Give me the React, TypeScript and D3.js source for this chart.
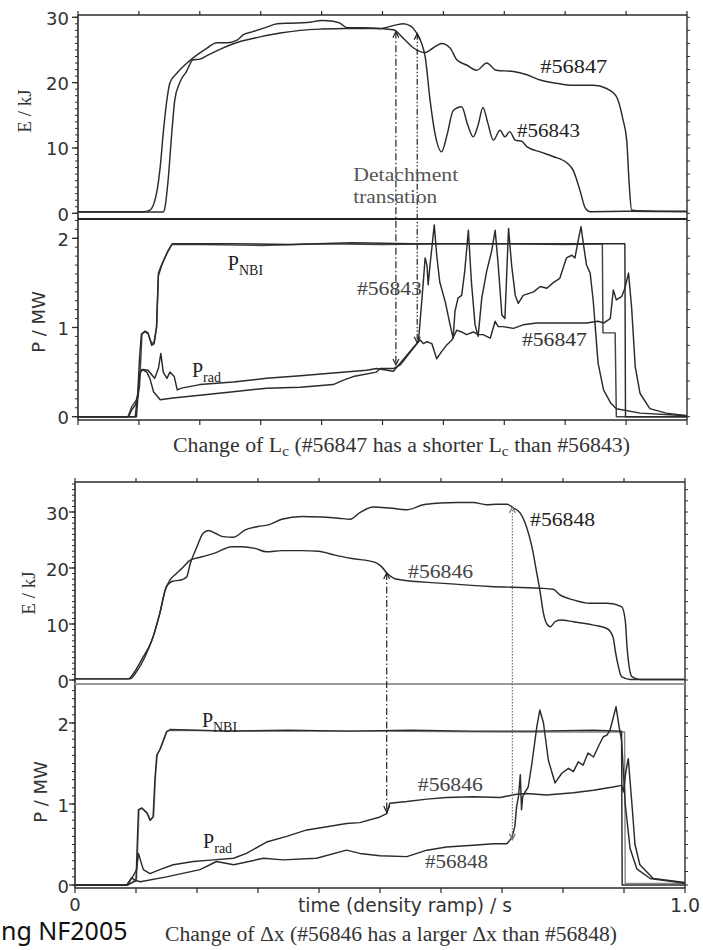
import React from "react";
import * as d3 from "d3";

type Pt = [number, number];

// ---------------- shared tick values ----------------
const timeTicks = [0, 0.1, 0.2, 0.3, 0.4, 0.5, 0.6, 0.7, 0.8, 0.9, 1.0];
const energyTicks = [0, 10, 20, 30];
const powerTicks = [0, 1, 2];

// ---------------- Figure 1: change of Lc (#56847 vs #56843) ----------------
const f1Energy56843: Pt[] = [
  [0, 0.25], [0.107, 0.25], [0.118, 0.5], [0.13, 3.6], [0.135, 7.1], [0.14, 12.3], [0.146, 17.4],
  [0.151, 20.0], [0.163, 21.5], [0.179, 23.0], [0.195, 24.2], [0.212, 25.3], [0.228, 26.1],
  [0.245, 26.1], [0.261, 26.5], [0.271, 27.3], [0.287, 27.8], [0.31, 28.5], [0.327, 29.0],
  [0.348, 29.1], [0.376, 29.2], [0.401, 29.5], [0.419, 29.4], [0.43, 29.1], [0.442, 28.4],
  [0.463, 28.4], [0.496, 28.3], [0.521, 28.8], [0.534, 29.0], [0.547, 28.6], [0.556, 27.6],
  [0.57, 24.0], [0.578, 17.4], [0.586, 12.3], [0.597, 9.4], [0.606, 12.0], [0.616, 15.7],
  [0.63, 16.3], [0.64, 13.5], [0.649, 11.7], [0.657, 13.5], [0.665, 16.2], [0.673, 13.8],
  [0.682, 11.2], [0.693, 12.7], [0.701, 11.7], [0.709, 12.5], [0.718, 11.2], [0.729, 11.0],
  [0.737, 10.2], [0.759, 9.4], [0.78, 8.7], [0.803, 7.7], [0.813, 6.6], [0.824, 3.6],
  [0.833, 0.8], [0.841, 0.25], [0.9, 0.3], [1.0, 0.25],
];
const f1Energy56847: Pt[] = [
  [0, 0.2], [0.14, 0.2], [0.143, 1.0], [0.148, 5.1], [0.154, 12.3], [0.159, 17.4], [0.167, 20.0],
  [0.178, 21.7], [0.189, 23.5], [0.2, 23.6], [0.211, 24.1], [0.233, 25.1], [0.266, 26.3],
  [0.299, 27.0], [0.332, 27.6], [0.365, 28.0], [0.4, 28.2], [0.441, 28.3], [0.484, 28.3],
  [0.518, 28.1], [0.534, 26.8], [0.551, 25.3], [0.57, 24.6], [0.583, 25.3], [0.597, 26.0],
  [0.611, 25.3], [0.622, 23.5], [0.638, 22.7], [0.655, 21.9], [0.671, 23.0], [0.687, 21.9],
  [0.715, 21.7], [0.737, 21.2], [0.759, 20.4], [0.786, 19.9], [0.813, 19.6], [0.846, 19.6],
  [0.868, 19.1], [0.884, 17.9], [0.895, 14.3], [0.901, 11.2], [0.905, 4.6], [0.909, 0.5],
  [0.917, 0.4], [1.0, 0.3],
];
const f1Nbi56843: Pt[] = [
  [0, 0], [0.082, 0], [0.088, 0.11], [0.096, 0.19], [0.101, 0.34], [0.105, 0.93], [0.11, 0.95],
  [0.115, 0.93], [0.121, 0.82], [0.125, 0.84], [0.129, 1.01], [0.132, 1.61], [0.137, 1.7],
  [0.146, 1.83], [0.154, 1.93], [0.2, 1.93], [0.3, 1.92], [0.4, 1.94], [0.5, 1.93], [0.6, 1.94],
  [0.7, 1.94], [0.8, 1.93], [0.861, 1.94], [0.862, 0.94], [0.882, 0.94], [0.884, 0.0], [1.0, 0.0],
];
const f1Nbi56847: Pt[] = [
  [0, 0], [0.094, 0], [0.098, 0.25], [0.101, 0.65], [0.104, 0.92], [0.11, 0.96], [0.115, 0.94],
  [0.121, 0.8], [0.125, 0.82], [0.129, 1.0], [0.132, 1.58], [0.138, 1.71], [0.147, 1.85],
  [0.155, 1.94], [0.25, 1.94], [0.35, 1.93], [0.45, 1.95], [0.55, 1.94], [0.65, 1.94],
  [0.75, 1.94], [0.898, 1.94], [0.899, 0.0], [1.0, 0.0],
];
const f1Prad56843: Pt[] = [
  [0, 0], [0.083, 0], [0.088, 0.075], [0.094, 0.13], [0.099, 0.24], [0.102, 0.5], [0.107, 0.53],
  [0.115, 0.52], [0.121, 0.47], [0.126, 0.43], [0.132, 0.54], [0.136, 0.71], [0.14, 0.5],
  [0.146, 0.43], [0.151, 0.5], [0.158, 0.45], [0.163, 0.3], [0.17, 0.32], [0.2, 0.36],
  [0.255, 0.39], [0.31, 0.43], [0.365, 0.46], [0.419, 0.49], [0.474, 0.52], [0.49, 0.54],
  [0.518, 0.51], [0.54, 0.69], [0.551, 0.78], [0.559, 0.84], [0.567, 1.51], [0.57, 1.78],
  [0.573, 1.7], [0.575, 1.48], [0.578, 1.7], [0.581, 1.89], [0.585, 2.15], [0.589, 1.81],
  [0.594, 1.51], [0.603, 1.29], [0.611, 1.03], [0.616, 0.88], [0.619, 1.18], [0.624, 1.33],
  [0.63, 1.36], [0.635, 1.63], [0.641, 2.09], [0.646, 1.51], [0.652, 1.03], [0.657, 0.9],
  [0.663, 1.33], [0.671, 1.63], [0.679, 1.85], [0.685, 2.09], [0.69, 1.7], [0.696, 1.14],
  [0.701, 1.1], [0.707, 2.11], [0.712, 1.7], [0.718, 1.36], [0.723, 1.27], [0.731, 1.36],
  [0.748, 1.4], [0.759, 1.46], [0.77, 1.44], [0.78, 1.5], [0.791, 1.55], [0.802, 1.78],
  [0.811, 1.81], [0.816, 1.78], [0.822, 2.0], [0.826, 2.13], [0.83, 1.93], [0.835, 1.7],
  [0.841, 1.61], [0.846, 1.3], [0.854, 0.6], [0.863, 0.3], [0.875, 0.15], [0.884, 0.09],
  [0.923, 0.04], [1.0, 0.01],
];
const f1Prad56847: Pt[] = [
  [0, 0], [0.096, 0], [0.101, 0.47], [0.105, 0.53], [0.113, 0.5], [0.118, 0.43], [0.124, 0.28],
  [0.135, 0.19], [0.156, 0.21], [0.2, 0.24], [0.255, 0.28], [0.31, 0.32], [0.365, 0.33],
  [0.419, 0.36], [0.436, 0.41], [0.452, 0.45], [0.49, 0.5], [0.496, 0.54], [0.518, 0.54],
  [0.529, 0.58], [0.559, 0.84], [0.562, 0.86], [0.567, 0.82], [0.573, 0.84], [0.581, 0.82],
  [0.589, 0.65], [0.597, 0.73], [0.605, 0.8], [0.614, 0.86], [0.622, 0.97], [0.63, 0.95],
  [0.638, 0.92], [0.649, 0.95], [0.657, 0.92], [0.665, 0.92], [0.677, 0.88], [0.685, 1.07],
  [0.69, 1.01], [0.698, 1.01], [0.715, 0.99], [0.731, 1.03], [0.753, 1.05], [0.78, 1.05],
  [0.813, 1.05], [0.835, 1.05], [0.854, 1.07], [0.863, 1.05], [0.874, 1.1], [0.879, 1.42],
  [0.884, 1.31], [0.893, 1.35], [0.898, 1.44], [0.904, 1.61], [0.909, 1.23], [0.915, 0.56],
  [0.923, 0.26], [0.939, 0.09], [0.966, 0.04], [1.0, 0.01],
];

// ---------------- Figure 2: change of Δx (#56846 vs #56848) ----------------
const f2Energy56848: Pt[] = [
  [0, 0.2], [0.09, 0.2], [0.101, 1.5], [0.115, 4.2], [0.128, 7.7], [0.139, 11.9], [0.15, 16.7],
  [0.159, 17.6], [0.175, 17.9], [0.183, 18.4], [0.189, 20.8], [0.2, 23.8], [0.21, 26.2],
  [0.219, 26.7], [0.23, 26.2], [0.243, 25.6], [0.26, 25.5], [0.279, 26.8], [0.3, 27.4],
  [0.317, 27.7], [0.339, 28.7], [0.372, 29.2], [0.404, 29.1], [0.432, 28.9], [0.451, 28.7],
  [0.467, 29.9], [0.489, 30.9], [0.516, 30.7], [0.544, 30.4], [0.571, 31.3], [0.598, 31.6],
  [0.626, 31.7], [0.653, 31.7], [0.675, 31.3], [0.691, 31.4], [0.708, 31.4], [0.719, 30.7],
  [0.73, 29.8], [0.74, 27.4], [0.749, 23.8], [0.757, 19.1], [0.762, 16.1], [0.768, 11.9],
  [0.773, 10.1], [0.779, 9.5], [0.787, 10.4], [0.795, 10.7], [0.817, 10.4], [0.85, 9.8],
  [0.872, 9.2], [0.882, 7.7], [0.886, 5.0], [0.89, 2.8], [0.896, 0.6], [0.91, 0.1], [1.0, 0.1],
];
const f2Energy56846: Pt[] = [
  [0, 0.2], [0.087, 0.2], [0.096, 1.2], [0.109, 3.6], [0.126, 7.1], [0.139, 11.9], [0.148, 16.1],
  [0.156, 17.9], [0.164, 18.8], [0.175, 19.9], [0.189, 21.4], [0.208, 22.0], [0.23, 22.7],
  [0.257, 23.8], [0.273, 23.8], [0.295, 23.5], [0.314, 22.9], [0.339, 23.1], [0.372, 23.1],
  [0.399, 23.0], [0.426, 22.3], [0.454, 21.7], [0.492, 21.0], [0.503, 20.2], [0.511, 19.1],
  [0.522, 18.2], [0.533, 17.9], [0.598, 17.3], [0.68, 16.7], [0.762, 16.4], [0.784, 16.2],
  [0.795, 15.2], [0.817, 14.3], [0.844, 13.7], [0.872, 13.7], [0.896, 13.1], [0.902, 10.7],
  [0.905, 5.9], [0.907, 3.6], [0.913, 0.6], [0.926, 0.1], [1.0, 0.1],
];
const f2Nbi56846: Pt[] = [
  [0, 0], [0.085, 0], [0.1, 0.05], [0.104, 0.93], [0.109, 0.95], [0.118, 0.89], [0.123, 0.8],
  [0.128, 0.84], [0.131, 1.3], [0.134, 1.6], [0.139, 1.67], [0.145, 1.79], [0.15, 1.89],
  [0.156, 1.92], [0.25, 1.9], [0.35, 1.91], [0.45, 1.9], [0.55, 1.91], [0.65, 1.9], [0.75, 1.9],
  [0.85, 1.91], [0.896, 1.9], [0.897, 0.0], [1.0, 0.0],
];
const f2Nbi56848: Pt[] = [
  [0, 0], [0.088, 0], [0.101, 0.08], [0.105, 0.92], [0.11, 0.95], [0.119, 0.88], [0.124, 0.8],
  [0.129, 0.85], [0.132, 1.35], [0.135, 1.62], [0.14, 1.68], [0.146, 1.8], [0.151, 1.9],
  [0.157, 1.91], [0.3, 1.9], [0.5, 1.9], [0.7, 1.89], [0.901, 1.89], [0.902, 0.02], [1.0, 0.02],
];
const f2Prad56846: Pt[] = [
  [0, 0], [0.085, 0], [0.09, 0.05], [0.096, 0.12], [0.101, 0.19], [0.104, 0.39], [0.112, 0.19],
  [0.123, 0.14], [0.139, 0.19], [0.161, 0.25], [0.194, 0.29], [0.227, 0.31], [0.26, 0.33],
  [0.281, 0.39], [0.314, 0.53], [0.347, 0.6], [0.38, 0.68], [0.413, 0.72], [0.445, 0.76],
  [0.467, 0.77], [0.5, 0.84], [0.511, 0.88], [0.516, 1.01], [0.544, 1.03], [0.577, 1.06],
  [0.609, 1.08], [0.653, 1.09], [0.697, 1.08], [0.724, 1.12], [0.74, 1.13], [0.773, 1.11],
  [0.817, 1.14], [0.85, 1.17], [0.882, 1.21], [0.896, 1.23], [0.899, 1.15], [0.903, 1.4],
  [0.907, 1.56], [0.913, 1.0], [0.918, 0.5], [0.926, 0.25], [0.948, 0.08], [1.0, 0.03],
];
const f2Prad56848: Pt[] = [
  [0, 0], [0.085, 0], [0.093, 0.09], [0.098, 0.06], [0.107, 0.04], [0.15, 0.1], [0.205, 0.19],
  [0.232, 0.29], [0.26, 0.25], [0.309, 0.33], [0.341, 0.31], [0.396, 0.33], [0.445, 0.43],
  [0.467, 0.39], [0.5, 0.36], [0.544, 0.35], [0.577, 0.43], [0.609, 0.47], [0.653, 0.49],
  [0.686, 0.51], [0.708, 0.51], [0.716, 0.58], [0.721, 0.72], [0.724, 0.97], [0.727, 1.09],
  [0.73, 1.36], [0.732, 0.93], [0.734, 1.09], [0.738, 1.15], [0.743, 1.21], [0.749, 1.5],
  [0.757, 1.95], [0.762, 2.16], [0.768, 2.0], [0.776, 1.54], [0.787, 1.26], [0.798, 1.38],
  [0.809, 1.44], [0.817, 1.4], [0.825, 1.52], [0.833, 1.48], [0.841, 1.63], [0.85, 1.58],
  [0.858, 1.71], [0.866, 1.83], [0.872, 1.85], [0.877, 1.91], [0.887, 2.2], [0.892, 1.95],
  [0.896, 1.79], [0.902, 1.0], [0.91, 0.45], [0.921, 0.2], [0.943, 0.08], [1.0, 0.02],
];

// ---------------- styling ----------------
const SERIF = "'Liberation Serif', 'Times New Roman', serif";
const SANS = "'DejaVu Sans', 'Liberation Sans', sans-serif";
const INK = "#2b2b2b";

type Lin = d3.ScaleLinear<number, number>;

function pathOf(x: Lin, y: Lin, data: Pt[], smooth: boolean) {
  const gen = d3
    .line<Pt>()
    .x((d) => x(d[0]))
    .y((d) => y(d[1]));
  if (smooth) gen.curve(d3.curveMonotoneX);
  return gen(data) || "";
}

function Arrow({ x, y1, y2, dash, color }: { x: number; y1: number; y2: number; dash: string; color: string }) {
  const h = 6;
  const w = 3;
  return (
    <g stroke={color} fill="none" strokeWidth={1.2}>
      <line x1={x} x2={x} y1={y1} y2={y2} strokeDasharray={dash} />
      <path d={`M${x - w},${y1 + h} L${x},${y1} L${x + w},${y1 + h}`} />
      <path d={`M${x - w},${y2 - h} L${x},${y2} L${x + w},${y2 - h}`} />
    </g>
  );
}

type Box = { left: number; right: number; top: number; mid: number; bottom: number };

function Frame({
  box, x, yE, yP, labelGap, dividerColor, eLabelPos, pLabelPos, rightMinorP,
}: {
  box: Box; x: Lin; yE: Lin; yP: Lin; labelGap: number; dividerColor: string;
  eLabelPos: [number, number]; pLabelPos: [number, number]; rightMinorP: number;
}) {
  const eMax = yE.invert(box.top);
  const pMax = yP.invert(box.mid);
  const minorE = d3.range(0, eMax, 1);
  const minorP = d3.range(0, pMax, 0.1);
  const minorEr = d3.range(0, eMax, 2);
  const minorPr = d3.range(0, pMax, rightMinorP);
  return (
    <g>
      {minorE.map((v, i) => (
        <line key={"le" + i} x1={box.left - 3} x2={box.left} y1={yE(v)} y2={yE(v)} stroke={INK} strokeWidth={1} />
      ))}
      {minorP.map((v, i) => (
        <line key={"lp" + i} x1={box.left - 3} x2={box.left} y1={yP(v)} y2={yP(v)} stroke={INK} strokeWidth={1} />
      ))}
      {minorEr.map((v, i) => (
        <line key={"re" + i} x1={box.right} x2={box.right + 3} y1={yE(v)} y2={yE(v)} stroke={INK} strokeWidth={1} />
      ))}
      {minorPr.map((v, i) => (
        <line key={"rp" + i} x1={box.right} x2={box.right + 3} y1={yP(v)} y2={yP(v)} stroke={INK} strokeWidth={1} />
      ))}
      {energyTicks.map((v) => (
        <g key={"E" + v}>
          <line x1={box.left - 6} x2={box.left} y1={yE(v)} y2={yE(v)} stroke={INK} strokeWidth={1.3} />
          <text x={box.left - labelGap} y={yE(v) + 1} textAnchor="end" dominantBaseline="central"
            fontFamily={SANS} fontSize={18} fill="#333">{v}</text>
        </g>
      ))}
      {powerTicks.map((v) => (
        <g key={"P" + v}>
          <line x1={box.left - 6} x2={box.left} y1={yP(v)} y2={yP(v)} stroke={INK} strokeWidth={1.3} />
          <text x={box.left - labelGap} y={yP(v) + 1} textAnchor="end" dominantBaseline="central"
            fontFamily={SANS} fontSize={18} fill="#333">{v}</text>
        </g>
      ))}
      {timeTicks.map((t) => (
        <g key={"t" + t}>
          <line x1={x(t)} x2={x(t)} y1={box.top - 4} y2={box.top} stroke={INK} strokeWidth={1.2} />
          <line x1={x(t)} x2={x(t)} y1={box.bottom} y2={box.bottom + 5} stroke={INK} strokeWidth={1.2} />
        </g>
      ))}
      <line x1={box.left} x2={box.right} y1={box.top} y2={box.top} stroke={INK} strokeWidth={1.6} />
      <line x1={box.left} x2={box.right} y1={box.bottom} y2={box.bottom} stroke={INK} strokeWidth={1.6} />
      <line x1={box.left} x2={box.left} y1={box.top} y2={box.bottom} stroke={INK} strokeWidth={1.6} />
      <line x1={box.right} x2={box.right} y1={box.top} y2={box.bottom} stroke={INK} strokeWidth={1.4} />
      <line x1={box.left} x2={box.right} y1={box.mid} y2={box.mid} stroke={dividerColor} strokeWidth={2.2} />
      <text transform={`translate(${eLabelPos[0]},${eLabelPos[1]}) rotate(-90)`} textAnchor="middle"
        fontFamily={SERIF} fontSize={19} fill="#333">E / kJ</text>
      <text transform={`translate(${pLabelPos[0]},${pLabelPos[1]}) rotate(-90)`} textAnchor="middle"
        fontFamily={SANS} fontSize={18} fill="#333">P / MW</text>
    </g>
  );
}

function Sub({ x, y, main, sub }: { x: number; y: number; main: string; sub: string }) {
  return (
    <text x={x} y={y} fontFamily={SERIF} fontSize={20} fill="#222">
      {main}
      <tspan fontSize={14} dy={5}>{sub}</tspan>
    </text>
  );
}

function Label({ x, y, text, len, color = "#222" }: { x: number; y: number; text: string; len: number; color?: string }) {
  return (
    <text x={x} y={y} fontFamily={SERIF} fontSize={19} fill={color} textLength={len} lengthAdjust="spacingAndGlyphs">
      {text}
    </text>
  );
}

export default function App() {
  const b1: Box = { left: 78, right: 687, top: 15, mid: 219, bottom: 420 };
  const x1 = d3.scaleLinear().domain([0, 1]).range([b1.left, b1.right]);
  const yE1 = d3.scaleLinear().domain([0, 30]).range([213.3, 17.3]);
  const yP1 = d3.scaleLinear().domain([0, 2]).range([416.7, 238.3]);
  const b2: Box = { left: 75, right: 685, top: 482, mid: 684, bottom: 888 };
  const x2 = d3.scaleLinear().domain([0, 1]).range([b2.left, b2.right]);
  const yE2 = d3.scaleLinear().domain([0, 30]).range([680, 512]);
  const yP2 = d3.scaleLinear().domain([0, 2]).range([885, 723]);

  const curve = { fill: "none", stroke: INK, strokeWidth: 1.45, strokeLinejoin: "round" as const };

  return (
    <svg width={703} height={950} viewBox="0 0 703 950"
      style={{ position: "absolute", left: 0, top: 0, background: "#fff" }}
      xmlns="http://www.w3.org/2000/svg">
      <defs>
        <clipPath id="c1e"><rect x={b1.left} y={b1.top} width={b1.right - b1.left} height={b1.mid - b1.top} /></clipPath>
        <clipPath id="c1p"><rect x={b1.left} y={b1.mid} width={b1.right - b1.left} height={b1.bottom - b1.mid} /></clipPath>
        <clipPath id="c2e"><rect x={b2.left} y={b2.top} width={b2.right - b2.left} height={b2.mid - b2.top} /></clipPath>
        <clipPath id="c2p"><rect x={b2.left} y={b2.mid} width={b2.right - b2.left} height={b2.bottom - b2.mid} /></clipPath>
      </defs>
      <rect x={0} y={0} width={703} height={950} fill="#fff" />

      {/* ================= Figure 1 ================= */}
      <g clipPath="url(#c1e)">
        <path d={pathOf(x1, yE1, f1Energy56843, true)} {...curve} />
        <path d={pathOf(x1, yE1, f1Energy56847, true)} {...curve} />
      </g>
      <g clipPath="url(#c1p)">
        <path d={pathOf(x1, yP1, f1Nbi56843, false)} {...curve} stroke="#444" />
        <path d={pathOf(x1, yP1, f1Nbi56847, false)} {...curve} />
        <path d={pathOf(x1, yP1, f1Prad56843, false)} {...curve} />
        <path d={pathOf(x1, yP1, f1Prad56847, false)} {...curve} />
      </g>
      <Frame box={b1} x={x1} yE={yE1} yP={yP1} labelGap={9} dividerColor="#222"
        eLabelPos={[31, 111]} pLabelPos={[45, 322]} rightMinorP={0.2} />

      <Arrow x={x1(0.522)} y1={yE1(27.8)} y2={yP1(0.58)} dash="7,2.5,1.5,2.5" color="#222" />
      <Arrow x={x1(0.557)} y1={yE1(27.5)} y2={yP1(0.83)} dash="6,2,1.5,2,1.5,2" color="#222" />

      <Label x={x1(0.759)} y={yE1(21.5)} text="#56847" len={67} />
      <Label x={x1(0.721)} y={yE1(11.7)} text="#56843" len={63} />
      <Label x={x1(0.452)} y={yE1(4.9)} text="Detachment" len={105} color="#555" />
      <Label x={x1(0.452)} y={yE1(1.6)} text="transation" len={84} color="#555" />
      <Sub x={x1(0.246)} y={yP1(1.64)} main="P" sub="NBI" />
      <Sub x={x1(0.187)} y={yP1(0.445)} main="P" sub="rad" />
      <Label x={x1(0.458)} y={yP1(1.36)} text="#56843" len={65} color="#444" />
      <Label x={x1(0.729)} y={yP1(0.79)} text="#56847" len={65} color="#333" />

      <text x={173} y={452} fontFamily={SERIF} fontSize={20} fill="#333" textLength={457} lengthAdjust="spacingAndGlyphs">
        Change of L<tspan fontSize={14} dy={4}>c</tspan>
        <tspan dy={-4}> (#56847 has a shorter L</tspan>
        <tspan fontSize={14} dy={4}>c</tspan>
        <tspan dy={-4}> than #56843)</tspan>
      </text>

      {/* ================= Figure 2 ================= */}
      <g clipPath="url(#c2e)">
        <path d={pathOf(x2, yE2, f2Energy56848, true)} {...curve} />
        <path d={pathOf(x2, yE2, f2Energy56846, true)} {...curve} />
      </g>
      <g clipPath="url(#c2p)">
        <path d={pathOf(x2, yP2, f2Nbi56848, false)} {...curve} stroke="#888" />
        <path d={pathOf(x2, yP2, f2Nbi56846, false)} {...curve} />
        <path d={pathOf(x2, yP2, f2Prad56846, false)} {...curve} />
        <path d={pathOf(x2, yP2, f2Prad56848, false)} {...curve} />
      </g>
      <Frame box={b2} x={x2} yE={yE2} yP={yP2} labelGap={6} dividerColor="#9a9a9a"
        eLabelPos={[35, 593]} pLabelPos={[47, 792]} rightMinorP={1 / 6} />

      <Arrow x={x2(0.511)} y1={yE2(19.1)} y2={yP2(0.9)} dash="7,2.5,1.5,2.5" color="#222" />
      <Arrow x={x2(0.717)} y1={yE2(30.9)} y2={yP2(0.56)} dash="1.5,1.5" color="#777" />

      <Label x={x2(0.746)} y={yE2(27.5)} text="#56848" len={65} />
      <Label x={x2(0.546)} y={yE2(18.2)} text="#56846" len={65} color="#444" />
      <Sub x={x2(0.208)} y={yP2(1.95)} main="P" sub="NBI" />
      <Sub x={x2(0.21)} y={yP2(0.457)} main="P" sub="rad" />
      <Label x={x2(0.562)} y={yP2(1.16)} text="#56846" len={65} color="#444" />
      <Label x={x2(0.574)} y={yP2(0.21)} text="#56848" len={63} color="#444" />

      <text x={x2(0)} y={911} textAnchor="middle" fontFamily={SANS} fontSize={18} fill="#333">0</text>
      <text x={x2(1)} y={912} textAnchor="middle" fontFamily={SANS} fontSize={19} fill="#333">1.0</text>
      <text x={298} y={912} fontFamily={SANS} fontSize={19} fill="#333" textLength={214} lengthAdjust="spacingAndGlyphs">
        time (density ramp) / s
      </text>

      <text x={1} y={940} fontFamily="'Noto Sans', sans-serif" fontSize={25} fill="#111">ng NF2005</text>
      <text x={165} y={941} fontFamily={SERIF} fontSize={20} fill="#333" textLength={452} lengthAdjust="spacingAndGlyphs">
        Change of Δx (#56846 has a larger Δx than #56848)
      </text>
    </svg>
  );
}
